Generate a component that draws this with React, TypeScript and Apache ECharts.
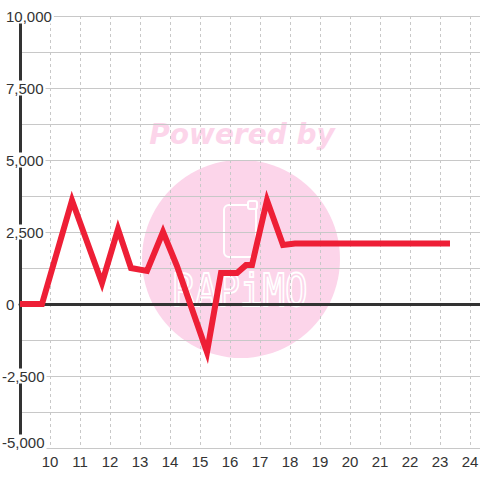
import React, { useEffect, useRef } from 'react';
import * as echarts from 'echarts';

// x positions (hour of day) and values of the red line
const xValues = [9, 9.733, 10.733, 11.733, 12.267, 12.7, 13.233, 13.767, 14.233, 15.233, 15.7, 16.233, 16.533, 16.733, 17.233, 17.767, 18.167, 23.333];
const yValues = [0, 0, 3600, 730, 2600, 1250, 1150, 2500, 1320, -1670, 1080, 1080, 1350, 1350, 3600, 2050, 2100, 2100];

// axes
const xMin = 9;
const xMax = 73 / 3;
const xInterval = 1;
const xLabelFrom = 10;
const yMin = -5000;
const yMax = 10000;
const yInterval = 1250;
const yLabelStep = 2500;

const watermarkTitle = 'Powered by';
const watermarkLogo = 'RAPiMO';

const fmt = (v: number) => v.toLocaleString('en-US');

export default function App() {
  const ref = useRef<HTMLDivElement>(null);
  useEffect(() => {
    if (!ref.current) return;
    const chart = echarts.init(ref.current, undefined, { renderer: 'svg' });
    const data = xValues.map((x, i) => [x, yValues[i]]);
    const labelFont = { fontSize: 15, color: '#333', fontFamily: '"Liberation Sans", Arial, sans-serif' };
    const yCommon = {
      type: 'value' as const,
      min: yMin,
      max: yMax,
      interval: yInterval,
      position: 'left' as const,
      axisTick: { show: false },
    };
    chart.setOption({
      animation: false,
      backgroundColor: '#fff',
      grid: { left: 20, right: 0, top: 16, bottom: 32, containLabel: false, outerBoundsMode: 'none' },
      graphic: [
        { type: 'circle', z: -10, silent: true, shape: { cx: 241, cy: 259, r: 99 }, style: { fill: '#fcd5ea' } },
        {
          type: 'text', z: -10, silent: true, x: 242, y: 134,
          style: { text: watermarkTitle, fill: '#fcd5ea', font: 'italic bold 28px "DejaVu Sans"', align: 'center', verticalAlign: 'middle' },
        },
        {
          type: 'rect', z: -9, silent: true, shape: { x: 224, y: 205, width: 32, height: 52, r: 5 },
          style: { fill: 'none', stroke: '#fff', lineWidth: 2 },
        },
        {
          type: 'rect', z: -9, silent: true, shape: { x: 248, y: 201, width: 9, height: 8, r: 2 },
          style: { fill: '#fcd5ea', stroke: '#fff', lineWidth: 2 },
        },
        {
          type: 'text', z: -9, silent: true, x: 240, y: 291, scaleX: 1.04, scaleY: 1.25,
          style: { text: watermarkLogo, fill: 'rgba(0,0,0,0)', stroke: '#fff', lineWidth: 1.5, font: '36px "DejaVu Sans Mono"', align: 'center', verticalAlign: 'middle' },
        },
      ],
      xAxis: [
        {
          type: 'value', min: xMin, max: xMax, interval: xInterval, position: 'bottom',
          axisLine: { show: false, onZero: false },
          axisTick: { show: false },
          splitLine: { show: true, lineStyle: { color: '#c8c8c8', width: 1, type: [3, 3] } },
          axisLabel: {
            ...labelFont, margin: 6,
            formatter: (v: number) => (v >= xLabelFrom && Math.abs(v - Math.round(v)) < 1e-6 ? String(Math.round(v)) : ''),
          },
        },
        {
          type: 'value', min: xMin, max: xMax, interval: xInterval, position: 'bottom',
          axisLine: { show: true, onZero: true, lineStyle: { color: '#333', width: 3 } },
          axisTick: { show: false },
          axisLabel: { show: false },
          splitLine: { show: false },
        },
      ],
      yAxis: [
        {
          ...yCommon,
          axisLine: { show: true, onZero: false, lineStyle: { color: '#333', width: 3 } },
          splitLine: { show: true, lineStyle: { color: '#c8c8c8', width: 1 } },
          axisLabel: {
            ...labelFont, align: 'left', margin: 16, backgroundColor: '#fff', padding: [0, 2],
            formatter: (v: number) => (v >= 0 && v % yLabelStep === 0 ? fmt(v) : ''),
          },
        },
        {
          ...yCommon,
          axisLine: { show: false, onZero: false },
          splitLine: { show: false },
          axisLabel: {
            ...labelFont, align: 'left', margin: 20, backgroundColor: '#fff', padding: [0, 2],
            formatter: (v: number) => {
              if (v >= 0 || v % yLabelStep !== 0) return '';
              return v === yMin ? '{low|' + fmt(v) + '}' : fmt(v);
            },
            rich: {
              low: { ...labelFont, padding: [0, 0, 12, 0] },
            },
          },
        },
      ],
      series: [
        {
          type: 'line',
          xAxisIndex: 0,
          yAxisIndex: 0,
          data,
          showSymbol: false,
          symbol: 'none',
          lineStyle: { color: '#ee1f36', width: 6, join: 'miter', cap: 'butt' },
          z: 3,
        },
      ],
    });
    return () => chart.dispose();
  }, []);
  return <div ref={ref} style={{ width: 480, height: 480, position: 'absolute', left: 0, top: 0 }} />;
}
